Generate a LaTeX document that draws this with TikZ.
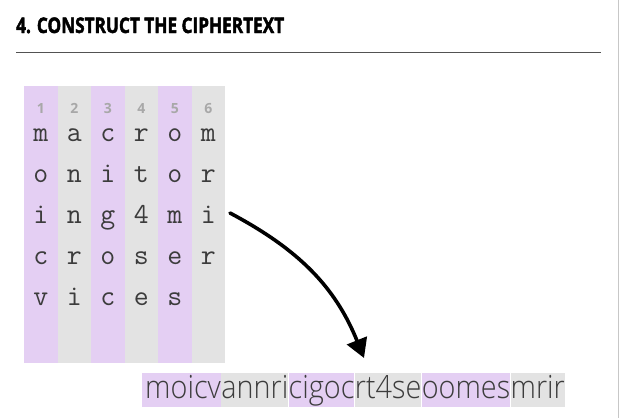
\documentclass[tikz,border=0pt]{standalone}
\usepackage{fontspec}
\usetikzlibrary{arrows.meta}
\setmainfont{Open Sans}
\newfontfamily\titlefont[FakeStretch=0.8,FakeBold=2]{Open Sans}
\newfontfamily\cipherfont[FakeStretch=0.9]{Open Sans Light}
\definecolor{lav}{HTML}{E4CFF3}
\definecolor{lgray}{HTML}{E3E3E3}
\definecolor{txt}{HTML}{3C3C3C}
\definecolor{numgray}{HTML}{A8A8A8}
\tikzset{
  x=1pt, y=-1pt,
  colbox/.style={inner sep=0pt, minimum width=33.5pt, minimum height=277pt, anchor=north west},
  numtxt/.style={font=\fontsize{14}{14}\selectfont\bfseries, text=numgray, anchor=base, inner sep=0pt},
  lettxt/.style={font=\ttfamily\fontsize{29}{29}\selectfont, text=txt, anchor=base, inner sep=0pt},
  seg/.style={font=\cipherfont\fontsize{32}{32}\selectfont, text=txt, inner xsep=0pt, inner ysep=0pt, text height=25pt, text depth=9pt, anchor=base west},
}
\begin{document}
\begin{tikzpicture}
\useasboundingbox (0,0) rectangle (620,418);
\fill[white] (0,0) rectangle (620,418);
\draw[color=black!22, line width=1.2pt] (618.5,0) -- (618.5,418);
% title
\node[anchor=base west, inner sep=0pt, font=\titlefont\bfseries\fontsize{21.5}{21.5}\selectfont] (title) at (16,33) {4. CONSTRUCT THE CIPHERTEXT};
\draw[color=black!68, line width=1.8pt] (16,52.5) -- (601,52.5);
% columns
\foreach \i/\c in {1/lav,2/lgray,3/lav,4/lgray,5/lav,6/lgray}{
  \node[colbox, fill=\c] (col\i) at ({24+(\i-1)*33.5},86) {};
  \node[numtxt] (num\i) at ({24+(\i-0.5)*33.5},113) {\i};
}
% letters
\foreach \r/\row in {0/{m,a,c,r,o,m},1/{o,n,i,t,o,r},2/{i,n,g,4,m,i},3/{c,r,o,s,e,r},4/{v,i,c,e,s,}}{
  \foreach \ch [count=\j] in \row {
    \node[lettxt] (l\r\j) at ({24+(\j-0.5)*33.5},{141+\r*41}) {\ch};
  }
}
% arrow
\coordinate (astart) at (230,213);
\coordinate (aend) at (364,358);
\draw[line width=3.6pt, line cap=round, -{Triangle[length=19pt,width=21pt]}] (astart) to[out=-28,in=112] (aend);
% ciphertext
\node[seg, fill=lav] (s1) at (142,398) {\hspace{3pt}moicv};
\node[seg, fill=lgray] (s2) at (s1.base east) {annri};
\node[seg, fill=lav] (s3) at (s2.base east) {cigoc};
\node[seg, fill=lgray] (s4) at (s3.base east) {rt4se};
\node[seg, fill=lav] (s5) at (s4.base east) {oomes};
\node[seg, fill=lgray] (s6) at (s5.base east) {mrir\hspace{8pt}};
\end{tikzpicture}
\end{document}
